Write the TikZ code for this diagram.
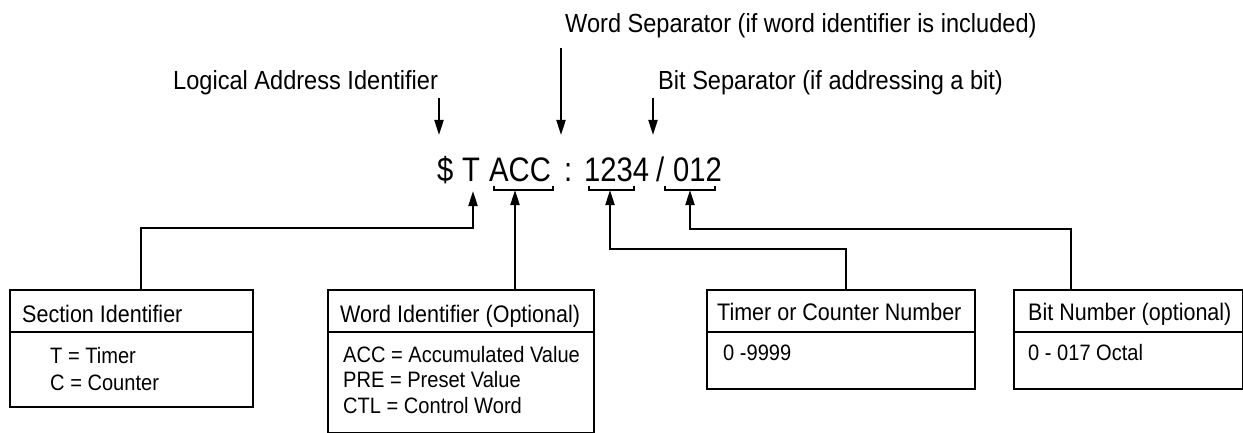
\documentclass[tikz,border=0pt]{standalone}
\usepackage{fontspec}
\setmainfont{Liberation Sans}[FakeStretch=0.9]
\newfontfamily\addrfamily{Liberation Sans}[FakeStretch=0.86]
\usetikzlibrary{arrows.meta}

\begin{document}
\begin{tikzpicture}[x=1pt,y=-1pt,
  line/.style={line width=2pt},
  tip/.style={line width=2pt,-{Triangle[length=15pt,width=9pt]}},
  lbl/.style={anchor=base west,inner sep=0pt,font=\fontsize{26.2}{30}\selectfont},
  ttl/.style={anchor=base west,inner sep=0pt,font=\fontsize{23.9}{27}\selectfont},
  txt/.style={anchor=base west,inner sep=0pt,font=\fontsize{22.3}{26}\selectfont},
  addr/.style={anchor=base west,inner sep=0pt,font=\addrfamily\fontsize{34}{40}\selectfont},
  box/.style={draw,line width=2pt,anchor=north west,inner sep=0pt}]
\useasboundingbox (0,0) rectangle (1243,433);

% headings above the address
\node[lbl] (lblLog) at (173,90) {Logical Address Identifier};
\node[lbl] (lblWord) at (565,33) {Word Separator (if word identifier is included)};
\node[lbl] (lblBit) at (658,90) {Bit Separator (if addressing a bit)};

% the address itself, one token per node
\node[addr] (tDollar) at (437,182) {\$};
\node[addr] (tT) at (462,182) {T};
\node[addr] (tAcc) at (489,182) {ACC};
\node[addr] (tColon) at (564,182) {:};
\node[addr] (tNum) at (584,182) {1234};
\node[addr] (tSlash) at (656,182) {/};
\node[addr] (tBit) at (673,182) {012};

% arrows from the headings down to the address
\coordinate (dTop) at (439,98);  \coordinate (dTip) at (439,135);
\coordinate (wTop) at (561,48);  \coordinate (wTip) at (561,135);
\coordinate (bTop) at (653,98);  \coordinate (bTip) at (653,135);
\draw[tip] (dTop) -- (dTip);
\draw[tip] (wTop) -- (wTip);
\draw[tip] (bTop) -- (bTip);

% brackets under the multi-character fields
\draw[line] (494,186) -- (494,190) -- (553,190) -- (553,186);
\draw[line] (589,186) -- (589,190) -- (634,190) -- (634,186);
\draw[line] (665,186) -- (665,190) -- (715,190) -- (715,186);
\coordinate (accB) at (515,190);
\coordinate (numB) at (610,190);
\coordinate (bitB) at (690,190);
\coordinate (tB) at (473,191);

% description boxes
\node[box,minimum width=243pt,minimum height=117pt] (sec) at (9,289) {};
\node[box,minimum width=266pt,minimum height=143pt] (word) at (327,289) {};
\node[box,minimum width=268pt,minimum height=99pt] (num) at (706,289) {};
\node[box,minimum width=229pt,minimum height=99pt] (bit) at (1013,289) {};

\coordinate (divY) at (0,332);
\foreach \b in {sec,word,num,bit}
  \draw[line] (\b.west |- divY) -- (\b.east |- divY);

\node[ttl] (secTitle) at (22,322) {Section Identifier};
\node[txt] (secA) at (50,363) {T = Timer};
\node[txt] (secB) at (50,390) {C = Counter};

\node[ttl] (wordTitle) at (340,322) {Word Identifier (Optional)};
\node[txt] (wordA) at (343,362) {ACC = Accumulated Value};
\node[txt] (wordB) at (343,387.5) {PRE = Preset Value};
\node[txt] (wordC) at (343,413) {CTL = Control Word};

\node[ttl] (numTitle) at (717,320) {Timer or Counter Number};
\node[txt] (numA) at (723,360) {0 -9999};

\node[ttl] (bitTitle) at (1028,320) {Bit Number (optional)};
\node[txt] (bitA) at (1028,360) {0 - 017 Octal};

% connectors from the boxes up to the fields
\coordinate (secUp) at (141,228);
\coordinate (numUp) at (846,249);
\coordinate (bitUp) at (1071,229);
\draw[tip] (sec.north -| secUp) -- (secUp) -| (tB);
\draw[tip] (word.north -| accB) -- (accB);
\draw[tip] (num.north -| numUp) -- (numUp) -| (numB);
\draw[tip] (bit.north -| bitUp) -- (bitUp) -| (bitB);
\end{tikzpicture}
\end{document}
